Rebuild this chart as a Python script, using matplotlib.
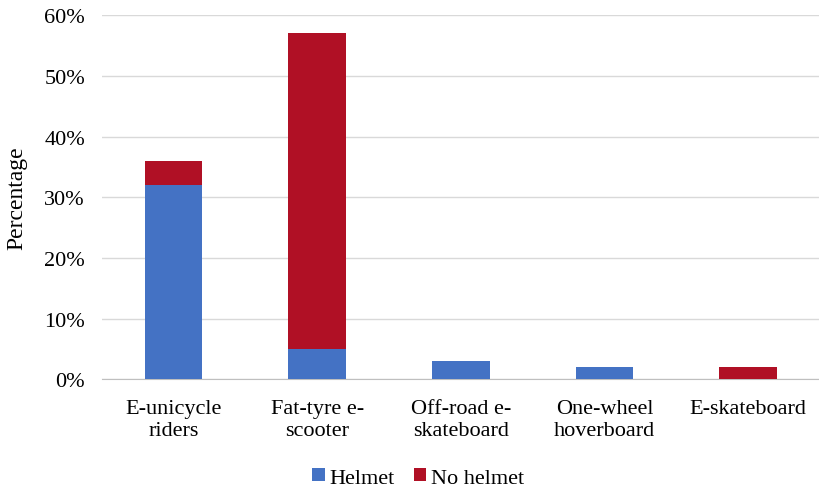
import numpy as np
import matplotlib.pyplot as plt
from matplotlib.ticker import PercentFormatter

categories = ['E-unicycle\nriders', 'Fat-tyre e-\nscooter', 'Off-road e-\nskateboard',
              'One-wheel\nhoverboard', 'E-skateboard']
helmet = [32, 5, 3, 2, 0]
no_helmet = [4, 52, 0, 0, 2]

plt.rcParams['font.family'] = ['Liberation Serif', 'DejaVu Serif']

fig = plt.figure(figsize=(8.2, 4.89), dpi=100)
ax = fig.add_axes([0.124, 0.222, 0.876, 0.745])

x = np.arange(len(categories))
ax.bar(x, helmet, width=0.4, color='#4472c4', label='Helmet', zorder=3)
ax.bar(x, no_helmet, width=0.4, bottom=helmet, color='#b01025', label='No helmet', zorder=3)

ax.set_xlim(-0.5, len(categories) - 0.5)
ax.set_ylim(0, 60)
ax.set_yticks(range(0, 61, 10))
ax.yaxis.set_major_formatter(PercentFormatter(decimals=0))
ax.grid(axis='y', color='#d9d9d9', linewidth=1, zorder=0)
ax.set_xticks(x)
ax.set_xticklabels(categories, fontsize=16, linespacing=1.2)
ax.tick_params(axis='y', labelsize=16, length=0, pad=12)
ax.tick_params(axis='x', length=0, pad=14)
for side in ['top', 'right', 'left']:
    ax.spines[side].set_visible(False)
ax.spines['bottom'].set_color('#bfbfbf')
ax.set_ylabel('Percentage', fontsize=17)
ax.yaxis.set_label_coords(-0.103, 0.5)

fig.legend(loc='lower center', ncol=2, frameon=False, fontsize=16,
           bbox_to_anchor=(0.51, -0.04), handlelength=0.55, handleheight=0.55,
           handletextpad=0.2, columnspacing=0.9)

fig.savefig('out.png', dpi=100)
